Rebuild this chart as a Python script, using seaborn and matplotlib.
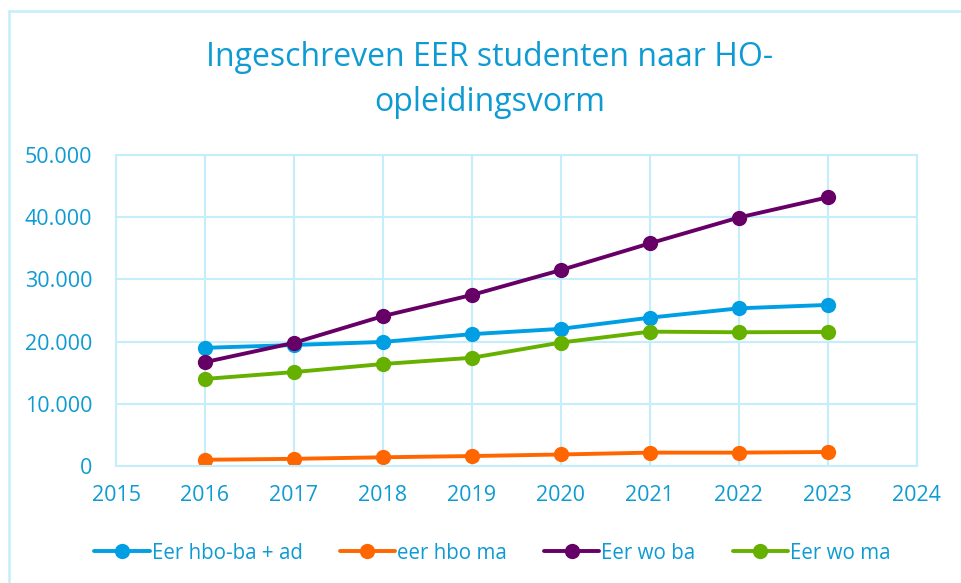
import matplotlib.pyplot as plt
import matplotlib.ticker as mticker
from matplotlib.lines import Line2D
import pandas as pd
import seaborn as sns

years = [2016, 2017, 2018, 2019, 2020, 2021, 2022, 2023]
hbo_ba_ad = [19000, 19450, 19950, 21200, 22050, 23850, 25350, 25900]
hbo_ma = [1000, 1150, 1400, 1600, 1850, 2150, 2150, 2250]
wo_ba = [16700, 19800, 24100, 27500, 31500, 35800, 39950, 43200]
wo_ma = [14000, 15100, 16400, 17400, 19850, 21600, 21500, 21550]

series = {
    "Eer hbo-ba + ad": hbo_ba_ad,
    "eer hbo ma": hbo_ma,
    "Eer wo ba": wo_ba,
    "Eer wo ma": wo_ma,
}
colors = ["#009FE3", "#FF6600", "#660066", "#66B000"]

rows = []
for name, vals in series.items():
    for y, v in zip(years, vals):
        rows.append({"jaar": y, "aantal": v, "reeks": name})
df = pd.DataFrame(rows)

sns.set_style("white")
plt.rcParams["font.family"] = ["Open Sans", "DejaVu Sans"]
txt = "#0E9BD3"
grid = "#C4EEFB"

fig = plt.figure(figsize=(9.62, 5.83), dpi=100)
ax = fig.add_axes([0.1206, 0.2007, 0.8324, 0.5334])

sns.lineplot(data=df, x="jaar", y="aantal", hue="reeks", palette=colors,
             marker="o", markersize=11, markeredgewidth=0, linewidth=2.8,
             ax=ax, legend=True)

ax.set_xlim(2015, 2024)
ax.set_ylim(0, 50000)
ax.xaxis.set_major_locator(mticker.MultipleLocator(1))
ax.yaxis.set_major_locator(mticker.MultipleLocator(10000))
ax.yaxis.set_major_formatter(mticker.FuncFormatter(
    lambda v, p: "0" if v == 0 else f"{int(v):,}".replace(",", ".")))
ax.grid(True, color=grid, linewidth=1.5)
ax.set_axisbelow(True)
for s in ax.spines.values():
    s.set_color(grid)
    s.set_linewidth(1.5)
ax.set_xlabel("")
ax.set_ylabel("")
ax.tick_params(axis="both", colors=txt, labelsize=15.5, length=0)
ax.tick_params(axis="y", pad=17)
ax.tick_params(axis="x", pad=14)

fig.text(490 / 962, 1 - 80 / 583,
         "Ingeschreven EER studenten naar HO-\nopleidingsvorm",
         color=txt, fontsize=23, ha="center", va="center", linespacing=1.45)

leg = ax.legend(loc="upper center", bbox_to_anchor=(0.47, -0.187), ncol=4,
                frameon=False, fontsize=14.8, handlelength=2.7,
                handletextpad=0.1, columnspacing=1.8)
for t in leg.get_texts():
    t.set_color(txt)

fig.add_artist(Line2D([8.5 / 962, 8.5 / 962], [0, 1 - 10.5 / 583],
                      transform=fig.transFigure, color=grid, linewidth=1.8))
fig.add_artist(Line2D([8.5 / 962, 1], [1 - 10.5 / 583, 1 - 10.5 / 583],
                      transform=fig.transFigure, color=grid, linewidth=1.8))

fig.savefig("out.png", dpi=100)
